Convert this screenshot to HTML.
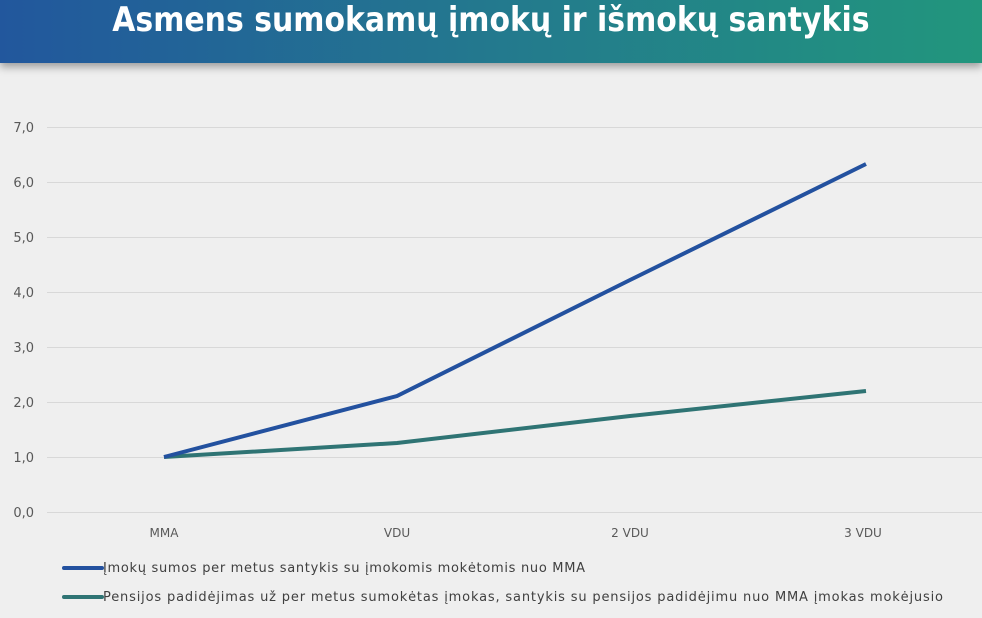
<!DOCTYPE html>
<html><head><meta charset="utf-8"><style>
body{margin:0;width:982px;height:618px;overflow:hidden;background:#efefef;font-family:"DejaVu Sans","Liberation Sans",sans-serif;}
.hdr{position:absolute;left:0;top:0;width:982px;height:63px;background:linear-gradient(90deg,#22579d 0%,#23798e 50%,#22967d 100%);box-shadow:0 4px 8px rgba(0,0,0,0.35);}
.t{position:absolute;left:0;top:0;width:982px;color:#fff;font-weight:bold;font-size:34px;text-align:center;line-height:40px;transform:scaleX(0.88);transform-origin:490px 0;}
</style></head><body>
<div class="hdr"><div class="t">Asmens sumokamų įmokų ir išmokų santykis</div></div>
<svg width="982" height="618" style="position:absolute;left:0;top:0" font-family="DejaVu Sans, Liberation Sans, sans-serif">
<g stroke="#d8d8d8" stroke-width="1">
<line x1="47" x2="982" y1="127.5" y2="127.5"/><line x1="47" x2="982" y1="182.5" y2="182.5"/><line x1="47" x2="982" y1="237.5" y2="237.5"/><line x1="47" x2="982" y1="292.5" y2="292.5"/><line x1="47" x2="982" y1="347.5" y2="347.5"/><line x1="47" x2="982" y1="402.5" y2="402.5"/><line x1="47" x2="982" y1="457.5" y2="457.5"/><line x1="47" x2="982" y1="512.5" y2="512.5"/>
</g>
<g fill="#595959" font-size="13" text-anchor="end">
<text x="34" y="132">7,0</text><text x="34" y="187">6,0</text><text x="34" y="242">5,0</text><text x="34" y="297">4,0</text><text x="34" y="352">3,0</text><text x="34" y="407">2,0</text><text x="34" y="462">1,0</text><text x="34" y="517">0,0</text>
</g>
<g fill="#595959" font-size="12" text-anchor="middle">
<text x="164" y="537">MMA</text><text x="397" y="537">VDU</text><text x="630" y="537">2 VDU</text><text x="863" y="537">3 VDU</text>
</g>
<polyline points="164,457 397,443 630,416 866,391" fill="none" stroke="#2f7474" stroke-width="4"/>
<polyline points="164,457 397,396 630,280 866,164" fill="none" stroke="#23519f" stroke-width="4"/>
<line x1="64" x2="102" y1="568" y2="568" stroke="#23519f" stroke-width="4" stroke-linecap="round"/>
<line x1="64" x2="102" y1="597" y2="597" stroke="#2f7474" stroke-width="4" stroke-linecap="round"/>
<g fill="#404040" font-size="13">
<text x="103" y="572" textLength="482" lengthAdjust="spacing">Įmokų sumos per metus santykis su įmokomis mokėtomis nuo MMA</text>
<text x="103" y="601" textLength="840" lengthAdjust="spacing">Pensijos padidėjimas už  per metus sumokėtas įmokas, santykis su pensijos padidėjimu nuo MMA įmokas mokėjusio</text>
</g>
</svg>
</body></html>
